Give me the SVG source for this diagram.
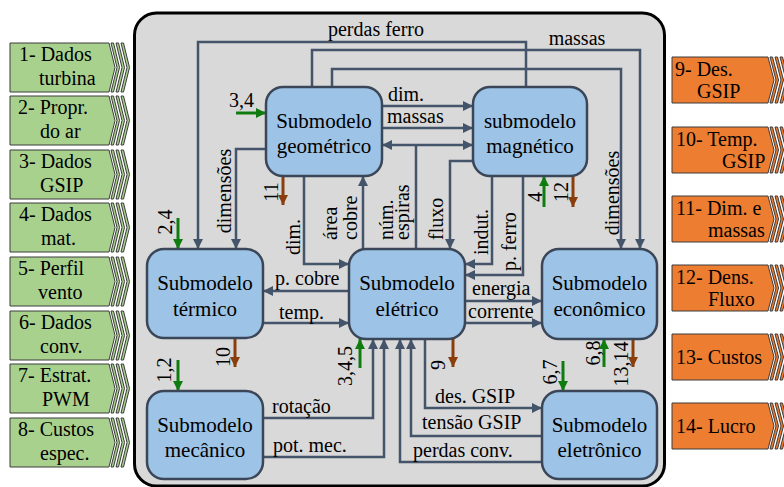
<svg xmlns="http://www.w3.org/2000/svg" xmlns:xlink="http://www.w3.org/1999/xlink" width="784" height="487" viewBox="0 0 784 487">
<style>
text{font-family:"Liberation Serif","Times New Roman",serif;fill:#000}
.nt{font-size:21px;text-anchor:middle}
.lb{font-size:20px}
.bx{font-size:20px}
.node{fill:#9dc3e6;stroke:#3b4758;stroke-width:2.5}
.c{fill:none;stroke:#44546a;stroke-width:2.5}
.g{fill:none;stroke:#107c10;stroke-width:3}
.b{fill:none;stroke:#8a3e0c;stroke-width:3}
.gs{fill:#a9d18e;stroke:#3c3c3c;stroke-width:1}
.os{fill:#ed7d31;stroke:#3c3c3c;stroke-width:1}
</style>
<defs>
<marker id="ac" viewBox="0 0 10 10" refX="10" refY="5" markerWidth="10" markerHeight="10" markerUnits="userSpaceOnUse" orient="auto-start-reverse"><path d="M0,0 L10,5 L0,10 z" fill="#44546a"/></marker>
<marker id="ag" viewBox="0 0 10 10" refX="10" refY="5" markerWidth="10" markerHeight="10" markerUnits="userSpaceOnUse" orient="auto"><path d="M0,0 L10,5 L0,10 z" fill="#107c10"/></marker>
<marker id="ab" viewBox="0 0 10 10" refX="10" refY="5" markerWidth="10" markerHeight="10" markerUnits="userSpaceOnUse" orient="auto"><path d="M0,0 L10,5 L0,10 z" fill="#8a3e0c"/></marker>
<g id="gshape">
<polygon class="gs" points="10,0 109,0 115,24.5 109,49 10,49"/>
<polygon class="gs" points="111,0 113.5,0 119.5,24.5 113.5,49 111,49 117,24.5"/>
<polygon class="gs" points="116,0 118.5,0 124.5,24.5 118.5,49 116,49 122,24.5"/>
<polygon class="gs" points="121,0 123.5,0 129.5,24.5 123.5,49 121,49 127,24.5"/>
</g>
<g id="oshape">
<polygon class="os" points="672,0 768,0 774,23 768,46 672,46"/>
<polygon class="os" points="770,0 772.5,0 778.5,23 772.5,46 770,46 776,23"/>
<polygon class="os" points="775,0 777.5,0 783.5,23 777.5,46 775,46 781,23"/>
<polygon class="os" points="780,0 782.5,0 788.5,23 782.5,46 780,46 786,23"/>
</g>
</defs>

<!-- input boxes -->
<g id="in1"><use xlink:href="#gshape" y="43"/><text class="bx" x="19" y="61">1- Dados</text><text class="bx" x="39" y="85">turbina</text></g>
<g id="in2"><use xlink:href="#gshape" y="96"/><text class="bx" x="18" y="114">2- Propr.</text><text class="bx" x="40" y="138">do ar</text></g>
<g id="in3"><use xlink:href="#gshape" y="150"/><text class="bx" x="19" y="168">3- Dados</text><text class="bx" x="40" y="192">GSIP</text></g>
<g id="in4"><use xlink:href="#gshape" y="203"/><text class="bx" x="19" y="221">4- Dados</text><text class="bx" x="41" y="245">mat.</text></g>
<g id="in5"><use xlink:href="#gshape" y="257"/><text class="bx" x="18" y="275">5- Perfil</text><text class="bx" x="38" y="299">vento</text></g>
<g id="in6"><use xlink:href="#gshape" y="311"/><text class="bx" x="19" y="329">6- Dados</text><text class="bx" x="40" y="353">conv.</text></g>
<g id="in7"><use xlink:href="#gshape" y="364"/><text class="bx" x="18" y="382">7- Estrat.</text><text class="bx" x="42" y="406">PWM</text></g>
<g id="in8"><use xlink:href="#gshape" y="418"/><text class="bx" x="18" y="436">8- Custos</text><text class="bx" x="40" y="460">espec.</text></g>

<!-- output boxes -->
<g id="out9"><use xlink:href="#oshape" y="57"/><text class="bx" x="675" y="76">9- Des.</text><text class="bx" x="697" y="98">GSIP</text></g>
<g id="out10"><use xlink:href="#oshape" y="127"/><text class="bx" x="676" y="146">10- Temp.</text><text class="bx" x="722" y="168">GSIP</text></g>
<g id="out11"><use xlink:href="#oshape" y="196"/><text class="bx" x="676" y="215">11- Dim. e</text><text class="bx" x="708" y="237">massas</text></g>
<g id="out12"><use xlink:href="#oshape" y="265"/><text class="bx" x="676" y="284">12- Dens.</text><text class="bx" x="708" y="306">Fluxo</text></g>
<g id="out13"><use xlink:href="#oshape" y="334"/><text class="bx" x="676" y="364">13- Custos</text></g>
<g id="out14"><use xlink:href="#oshape" y="403"/><text class="bx" x="676" y="433">14- Lucro</text></g>

<!-- container -->
<rect id="container" x="134.5" y="13" width="530" height="473" rx="22" fill="#d9d9d9" stroke="#000" stroke-width="3"/>

<!-- connectors -->
<g id="connectors">
<path class="c" d="M526,87 V42 H198 V249" marker-end="url(#ac)"/>
<path class="c" d="M312,87 V50 H640 V249" marker-end="url(#ac)"/>
<path class="c" d="M332,87 V69 H621 V249" marker-end="url(#ac)"/>
<path class="c" d="M266,149 H236 V249" marker-end="url(#ac)"/>
<path class="c" d="M382,106 H473" marker-end="url(#ac)"/>
<path class="c" d="M382,128 H473" marker-end="url(#ac)"/>
<path class="c" d="M382,145 H473" marker-start="url(#ac)" marker-end="url(#ac)"/>
<path class="c" d="M416,249 V145"/>
<path class="c" d="M304,176 V264 H349" marker-end="url(#ac)"/>
<path class="c" d="M363,249 V176" marker-end="url(#ac)"/>
<path class="c" d="M473,161 H450 V249" marker-end="url(#ac)"/>
<path class="c" d="M492,176 V264 H465" marker-end="url(#ac)"/>
<path class="c" d="M523,176 V275 H465" marker-end="url(#ac)"/>
<path class="c" d="M349,291 H263" marker-end="url(#ac)"/>
<path class="c" d="M263,323 H349" marker-end="url(#ac)"/>
<path class="c" d="M465,301 H542" marker-end="url(#ac)"/>
<path class="c" d="M465,323 H542" marker-end="url(#ac)"/>
<path class="c" d="M263,418 H373 V339" marker-end="url(#ac)"/>
<path class="c" d="M263,457 H384 V339" marker-end="url(#ac)"/>
<path class="c" d="M542,436 H411 V339" marker-end="url(#ac)"/>
<path class="c" d="M542,462 H400 V339" marker-end="url(#ac)"/>
<path class="c" d="M425,339 V408 H542" marker-end="url(#ac)"/>
<path class="g" d="M236,113 H266" marker-end="url(#ag)"/>
<path class="g" d="M178,218 V249" marker-end="url(#ag)"/>
<path class="g" d="M178,360 V391" marker-end="url(#ag)"/>
<path class="g" d="M360,368 V339" marker-end="url(#ag)"/>
<path class="g" d="M544,207 V176" marker-end="url(#ag)"/>
<path class="g" d="M563,361 V391" marker-end="url(#ag)"/>
<path class="g" d="M604,367 V339" marker-end="url(#ag)"/>
<path class="b" d="M283,176 V205" marker-end="url(#ab)"/>
<path class="b" d="M573,176 V207" marker-end="url(#ab)"/>
<path class="b" d="M235,338 V367" marker-end="url(#ab)"/>
<path class="b" d="M453,339 V367" marker-end="url(#ab)"/>
<path class="b" d="M633,339 V367" marker-end="url(#ab)"/>
<!-- labels -->
<text class="lb" x="376" y="36" text-anchor="middle">perdas ferro</text>
<text class="lb" x="577" y="45" text-anchor="middle">massas</text>
<text class="lb" x="388" y="101">dim.</text>
<text class="lb" x="387" y="123">massas</text>
<text class="lb" x="229" y="107">3,4</text>
<text class="lb" x="275" y="285">p. cobre</text>
<text class="lb" x="279" y="319">temp.</text>
<text class="lb" x="472" y="295">energia</text>
<text class="lb" x="468" y="318">corrente</text>
<text class="lb" x="272" y="413">rotação</text>
<text class="lb" x="273" y="452">pot. mec.</text>
<text class="lb" x="435" y="403">des. GSIP</text>
<text class="lb" x="422" y="429">tensão GSIP</text>
<text class="lb" x="413" y="457">perdas conv.</text>
<text class="lb" transform="translate(231,191) rotate(-90)" text-anchor="middle">dimensões</text>
<text class="lb" transform="translate(619,193) rotate(-90)" text-anchor="middle">dimensões</text>
<text class="lb" transform="translate(300,255) rotate(-90)">dim.</text>
<text class="lb" transform="translate(337,240) rotate(-90)">área</text>
<text class="lb" transform="translate(357,240) rotate(-90)">cobre</text>
<text class="lb" transform="translate(393,240) rotate(-90)">núm.</text>
<text class="lb" transform="translate(409,240) rotate(-90)">espiras</text>
<text class="lb" transform="translate(443,240) rotate(-90)">fluxo</text>
<text class="lb" transform="translate(488,255) rotate(-90)">indut.</text>
<text class="lb" transform="translate(516,271) rotate(-90)">p. ferro</text>
<text class="lb" transform="translate(172,222) rotate(-90)" text-anchor="middle">2,4</text>
<text class="lb" transform="translate(278,192) rotate(-90)" text-anchor="middle">11</text>
<text class="lb" transform="translate(230,357) rotate(-90)" text-anchor="middle">10</text>
<text class="lb" transform="translate(171,370) rotate(-90)" text-anchor="middle">1,2</text>
<text class="lb" transform="translate(352,366) rotate(-90)" text-anchor="middle">3,4,5</text>
<text class="lb" transform="translate(542,197) rotate(-90)" text-anchor="middle">4</text>
<text class="lb" transform="translate(568,192) rotate(-90)" text-anchor="middle">12</text>
<text class="lb" transform="translate(445,365) rotate(-90)" text-anchor="middle">9</text>
<text class="lb" transform="translate(557,372) rotate(-90)" text-anchor="middle">6,7</text>
<text class="lb" transform="translate(600,353) rotate(-90)" text-anchor="middle">6,8</text>
<text class="lb" transform="translate(628,364) rotate(-90)" text-anchor="middle">13,14</text>
</g>

<!-- nodes -->
<g id="geometrico"><rect class="node" x="266" y="87" width="116" height="89" rx="17"/><text class="nt" x="324" y="128">Submodelo</text><text class="nt" x="324" y="153">geométrico</text></g>
<g id="magnetico"><rect class="node" x="473" y="87" width="114" height="89" rx="17"/><text class="nt" x="530" y="128">submodelo</text><text class="nt" x="530" y="153">magnético</text></g>
<g id="termico"><rect class="node" x="147" y="249" width="116" height="89" rx="17"/><text class="nt" x="205" y="290">Submodelo</text><text class="nt" x="205" y="316">térmico</text></g>
<g id="eletrico"><rect class="node" x="349" y="249" width="116" height="90" rx="17"/><text class="nt" x="407" y="290">Submodelo</text><text class="nt" x="407" y="316">elétrico</text></g>
<g id="economico"><rect class="node" x="542" y="249" width="115" height="90" rx="17"/><text class="nt" x="599.5" y="290">Submodelo</text><text class="nt" x="599.5" y="316">econômico</text></g>
<g id="mecanico"><rect class="node" x="147" y="391" width="116" height="88" rx="17"/><text class="nt" x="205" y="432">Submodelo</text><text class="nt" x="205" y="457">mecânico</text></g>
<g id="eletronico"><rect class="node" x="542" y="391" width="115" height="88" rx="17"/><text class="nt" x="599.5" y="432">Submodelo</text><text class="nt" x="599.5" y="457">eletrônico</text></g>
</svg>
